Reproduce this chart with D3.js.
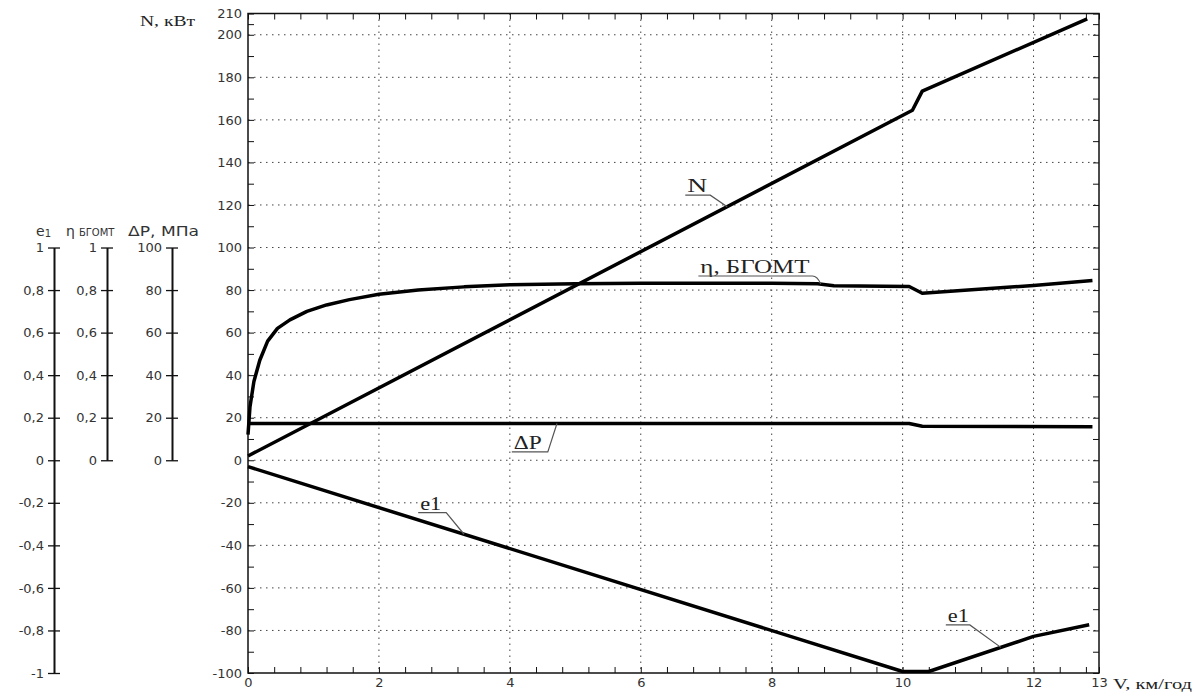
<!DOCTYPE html>
<html>
<head>
<meta charset="utf-8">
<script src="https://cdn.jsdelivr.net/npm/d3@7"></script>
<style>
  body { margin: 0; background: #fff; }
  text { font-family: "DejaVu Sans", "Liberation Sans", Arial, sans-serif; }
  .tick text { font-size: 13px; fill: #333; }
  .serif { font-family: "Liberation Serif", "Times New Roman", serif; fill: #222; }
  .grid line { stroke: #444; stroke-width: 1; stroke-dasharray: 1.5,4.5; }
</style>
</head>
<body>
<div id="chart"></div>
<script>
// chart data
var nV = [0, 10.15, 10.3, 12.82];
var nVal = [2, 164.5, 173.5, 207.5];            // N, kW

var etaV = [0, 0.03, 0.09, 0.18, 0.3, 0.45, 0.64, 0.9, 1.2, 1.55, 2.0, 2.6, 3.3, 4.0, 5.0, 6.0, 8.0, 8.7, 8.95, 10.1, 10.3, 11.0, 12.0, 12.9];
var etaVal = [0.12, 0.25, 0.37, 0.47, 0.56, 0.62, 0.66, 0.70, 0.73, 0.755, 0.78, 0.80, 0.815, 0.825, 0.83, 0.832, 0.832, 0.83, 0.82, 0.817, 0.785, 0.80, 0.822, 0.845];

var dpV = [0, 10.1, 10.3, 12.9];
var dpVal = [17.3, 17.3, 16.0, 15.7];           // dP, MPa

var e1V = [0, 10.0, 10.4, 12.0, 12.85];
var e1Val = [-0.03, -0.993, -0.993, -0.828, -0.773];

var xLabels = [0, 2, 4, 6, 8, 10, 12, 13];
var yLabels = [-100, -80, -60, -40, -20, 0, 20, 40, 60, 80, 100, 120, 140, 160, 180, 200, 210];
var e1Ticks = [1, 0.8, 0.6, 0.4, 0.2, 0, -0.2, -0.4, -0.6, -0.8, -1];
var etaTicks = [1, 0.8, 0.6, 0.4, 0.2, 0];
var dpTicks = [100, 80, 60, 40, 20, 0];

var svgWidth = 1194, svgHeight = 697;

var svg = d3.select("#chart").append("svg")
  .attr("width", svgWidth)
  .attr("height", svgHeight);

var x = d3.scaleLinear().domain([0, 13]).range([248, 1099]);
var y = d3.scaleLinear().domain([-100, 210]).range([673, 13.5]);
var yE1 = d3.scaleLinear().domain([-1, 1]).range([y(-100), y(100)]);
var yEta = d3.scaleLinear().domain([0, 1]).range([y(0), y(100)]);
var yDp = d3.scaleLinear().domain([0, 100]).range([y(0), y(100)]);

// tick positions
var xTicks = d3.range(0, 33).map(i => +(i * 0.4).toFixed(1)).concat([13]);
var yTicks = d3.range(-100, 211, 10).concat([205]);
var fmtX = d => xLabels.indexOf(d) >= 0 ? d : "";
var fmtY = d => yLabels.indexOf(d) >= 0 ? d : "";
var comma = d => String(d).replace(".", ",");

// grid
var grid = svg.append("g").attr("class", "grid");
grid.selectAll(".h").data(yLabels.filter(d => d > -100 && d < 210)).enter()
  .append("line")
  .attr("x1", x(0)).attr("x2", x(13))
  .attr("y1", d => y(d)).attr("y2", d => y(d));
grid.selectAll(".v").data(xLabels.filter(d => d > 0 && d < 13)).enter()
  .append("line")
  .attr("y1", y(210)).attr("y2", y(-100))
  .attr("x1", d => x(d)).attr("x2", d => x(d));

// main axes (ticks inward on all four sides)
function styleAxis(g) {
  g.select(".domain").remove();
  g.selectAll(".tick line").attr("stroke", "#111");
}
svg.append("g")
  .attr("transform", `translate(0, ${y(-100)})`)
  .call(d3.axisBottom(x).tickValues(xTicks).tickFormat(fmtX).tickSize(-6).tickPadding(5))
  .call(styleAxis);
svg.append("g")
  .attr("transform", `translate(0, ${y(210)})`)
  .call(d3.axisTop(x).tickValues(xTicks).tickFormat("").tickSize(-6))
  .call(styleAxis);
svg.append("g")
  .attr("transform", `translate(${x(0)}, 0)`)
  .call(d3.axisLeft(y).tickValues(yTicks).tickFormat(fmtY).tickSize(-6).tickPadding(6))
  .call(styleAxis);
svg.append("g")
  .attr("transform", `translate(${x(13)}, 0)`)
  .call(d3.axisRight(y).tickValues(yTicks).tickFormat("").tickSize(-6))
  .call(styleAxis);

svg.append("rect")
  .attr("x", x(0)).attr("y", y(210))
  .attr("width", x(13) - x(0)).attr("height", y(-100) - y(210))
  .attr("fill", "none").attr("stroke", "#111").attr("stroke-width", 1.5);

// side axes
function sideAxis(xPos, scale, ticks) {
  var g = svg.append("g")
    .attr("transform", `translate(${xPos}, 0)`)
    .call(d3.axisLeft(scale).tickValues(ticks).tickFormat(comma).tickSizeInner(6).tickSizeOuter(0).tickPadding(4));
  g.select(".domain").attr("stroke", "#111").attr("stroke-width", 2);
  g.selectAll(".tick line").attr("x1", 6).attr("x2", -6).attr("stroke", "#111").attr("stroke-width", 1.3);
  return g;
}
sideAxis(54, yE1, e1Ticks);
sideAxis(107, yEta, etaTicks);
sideAxis(172, yDp, dpTicks);

// side axis titles
var e1Title = svg.append("text").attr("x", 36).attr("y", 236).attr("font-size", 14).attr("fill", "#333");
e1Title.append("tspan").text("e");
e1Title.append("tspan").attr("font-size", 10).attr("dy", 1).text("1");
var etaTitle = svg.append("text").attr("x", 66).attr("y", 236).attr("fill", "#333");
etaTitle.append("tspan").attr("font-size", 14).text("η");
etaTitle.append("tspan").attr("font-size", 10).attr("dx", 4).text("БГОМТ");
svg.append("text").attr("x", 128).attr("y", 236).attr("font-size", 14).attr("fill", "#333")
  .attr("textLength", 71).attr("lengthAdjust", "spacingAndGlyphs").text("ΔP, МПа");

// main axis titles
svg.append("text").attr("class", "serif").attr("x", 140).attr("y", 26)
  .attr("font-size", 15).attr("textLength", 55).attr("lengthAdjust", "spacingAndGlyphs").text("N, кВт");
svg.append("text").attr("class", "serif").attr("x", 1113).attr("y", 689)
  .attr("font-size", 15).attr("textLength", 79).attr("lengthAdjust", "spacingAndGlyphs").text("V, км/год");

// series
function series(vs, vals, ys) {
  return vs.map((v, i) => ({ v: v, val: vals[i], ys: ys }));
}
var lines = [
  series(nV, nVal, y),
  series(etaV, etaVal, yEta),
  series(dpV, dpVal, yDp),
  series(e1V, e1Val, yE1)
];
var line = d3.line().x(d => x(d.v)).y(d => d.ys(d.val));
svg.selectAll(".curve").data(lines).enter()
  .append("path")
  .attr("class", "curve")
  .attr("d", line)
  .attr("fill", "none")
  .attr("stroke", "#000")
  .attr("stroke-width", 3.5)
  .attr("stroke-linejoin", "round");

// annotations: underline left end (data units), width in px, leader to a point on the curve
function interp(vs, vals, v) {
  return d3.scaleLinear().domain(vs).range(vals)(v);
}
var annotations = [
  { text: "N", v: 6.68, val: 124.6, w: 25, tv: 7.32, ty: v => y(interp(nV, nVal, v)), len: 20 },
  { text: "η, БГОМТ", v: 6.88, val: 86.6, w: 114, tv: 8.75, ty: v => yEta(interp(etaV, etaVal, v)), len: 109, bend: true },
  { text: "ΔP", v: 4.03, val: 3.9, w: 36, tv: 4.72, ty: v => yDp(interp(dpV, dpVal, v)), len: 28 },
  { text: "e1", v: 2.6, val: -24.6, w: 28, tv: 3.3, ty: v => yE1(interp(e1V, e1Val, v)), len: 21 },
  { text: "e1", v: 10.66, val: -77.4, w: 24, tv: 11.5, ty: v => yE1(interp(e1V, e1Val, v)), len: 21 }
];
annotations.forEach(function(a) {
  var x0 = x(a.v), y0 = y(a.val), x1 = x0 + a.w;
  var tX = x(a.tv), tY = a.ty(a.tv);
  svg.append("text").attr("class", "serif")
    .attr("x", x0 + 2).attr("y", y0 - 3)
    .attr("font-size", 19)
    .attr("textLength", a.len).attr("lengthAdjust", "spacingAndGlyphs")
    .text(a.text);
  var d = a.bend
    ? `M${x0},${y0} L${x1},${y0} Q${x1 + 5},${y0} ${tX},${tY}`
    : `M${x0},${y0} L${x1},${y0} L${tX},${tY}`;
  svg.append("path").attr("d", d)
    .attr("fill", "none").attr("stroke", "#555").attr("stroke-width", 1.2);
});
</script>
</body>
</html>
